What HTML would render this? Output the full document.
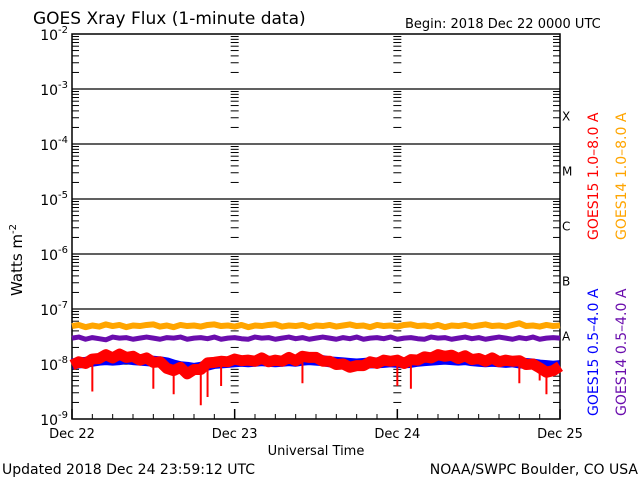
<!DOCTYPE html>
<html><head><meta charset="utf-8"><style>
body{margin:0;background:#fff;}
svg text{font-family:"DejaVu Sans","Liberation Sans",sans-serif;}
</style></head><body>
<svg id="c" width="640" height="480" xmlns="http://www.w3.org/2000/svg">
<text x="33" y="24" font-size="17">GOES Xray Flux (1-minute data)</text>
<text x="405" y="28" font-size="13">Begin:  2018 Dec 22 0000 UTC</text>
<text x="0" y="0" font-size="15" transform="translate(22,260) rotate(-90)" text-anchor="middle">Watts m<tspan dy="-6" font-size="10">-2</tspan></text>
<text x="316" y="455" font-size="13" text-anchor="middle">Universal Time</text>
<text x="2" y="474" font-size="14">Updated 2018 Dec 24 23:59:12 UTC</text>
<text x="638" y="474" font-size="14" text-anchor="end">NOAA/SWPC Boulder, CO USA</text>
<g id="axes"></g>
<g id="series"></g>
<text transform="translate(598,240) rotate(-90)" font-size="14" fill="#ff0000">GOES15 1.0–8.0 A</text>
<text transform="translate(626,240) rotate(-90)" font-size="14" fill="#ffa500">GOES14 1.0–8.0 A</text>
<text transform="translate(598,416) rotate(-90)" font-size="14" fill="#0000ff">GOES15 0.5–4.0 A</text>
<text transform="translate(626,416) rotate(-90)" font-size="14" fill="#6a0dad">GOES14 0.5–4.0 A</text>
</svg>
<script>
const yTickExps=[-9,-8,-7,-6,-5,-4,-3,-2];
const dayLabels=["Dec 22","Dec 23","Dec 24","Dec 25"];
const classLabels=["A","B","C","M","X"];
const orangeLog=[-7.31,-7.29,-7.33,-7.30,-7.32,-7.28,-7.31,-7.29,-7.33,-7.30,-7.31,-7.29,-7.28,-7.32,-7.30,-7.33,-7.29,-7.31,-7.30,-7.32,-7.29,-7.28,-7.31,-7.30,-7.32,-7.29,-7.33,-7.30,-7.31,-7.29,-7.28,-7.32,-7.30,-7.31,-7.29,-7.33,-7.30,-7.31,-7.29,-7.32,-7.30,-7.28,-7.31,-7.30,-7.33,-7.29,-7.31,-7.30,-7.32,-7.29,-7.28,-7.31,-7.30,-7.32,-7.29,-7.33,-7.30,-7.31,-7.29,-7.32,-7.30,-7.28,-7.31,-7.30,-7.32,-7.29,-7.26,-7.31,-7.30,-7.32,-7.29,-7.31,-7.30];
const purpleLog=[-7.53,-7.51,-7.55,-7.52,-7.54,-7.56,-7.51,-7.53,-7.52,-7.55,-7.53,-7.51,-7.53,-7.55,-7.52,-7.53,-7.51,-7.55,-7.53,-7.52,-7.54,-7.51,-7.55,-7.53,-7.52,-7.54,-7.55,-7.51,-7.53,-7.52,-7.55,-7.53,-7.51,-7.54,-7.52,-7.55,-7.53,-7.51,-7.53,-7.55,-7.52,-7.54,-7.51,-7.55,-7.53,-7.52,-7.54,-7.51,-7.55,-7.53,-7.52,-7.54,-7.55,-7.51,-7.53,-7.52,-7.55,-7.53,-7.51,-7.54,-7.52,-7.55,-7.53,-7.51,-7.53,-7.55,-7.52,-7.54,-7.51,-7.55,-7.53,-7.52,-7.53];
const blueLog=[-8.00,-7.98,-7.97,-7.95,-7.93,-7.92,-7.93,-7.92,-7.90,-7.92,-7.93,-7.94,-7.95,-7.96,-7.98,-8.02,-8.05,-8.06,-8.08,-8.06,-8.02,-7.99,-7.98,-7.97,-7.96,-7.95,-7.96,-7.95,-7.94,-7.95,-7.96,-7.95,-7.94,-7.95,-7.93,-7.92,-7.93,-7.94,-7.96,-7.97,-7.98,-7.99,-8.00,-7.99,-7.98,-7.98,-7.97,-7.96,-7.97,-7.98,-7.97,-7.95,-7.94,-7.93,-7.92,-7.91,-7.92,-7.93,-7.92,-7.94,-7.95,-7.96,-7.95,-7.96,-7.97,-7.96,-7.98,-7.99,-8.00,-8.02,-8.03,-8.04,-8.03];
const redLog=[-8.02,-7.96,-7.99,-7.91,-7.90,-7.83,-7.89,-7.82,-7.88,-7.86,-7.93,-7.89,-7.97,-7.96,-8.08,-8.12,-8.06,-8.18,-8.10,-8.10,-7.98,-7.97,-7.95,-7.96,-7.91,-7.94,-7.93,-7.95,-7.89,-7.96,-7.93,-7.95,-7.88,-7.94,-7.86,-7.88,-7.88,-7.95,-7.95,-8.01,-8.00,-8.06,-8.03,-8.03,-7.96,-7.99,-7.93,-7.95,-7.93,-7.99,-7.92,-7.93,-7.87,-7.89,-7.83,-7.86,-7.84,-7.90,-7.85,-7.92,-7.90,-7.95,-7.89,-7.96,-7.93,-7.95,-7.94,-8.01,-8.00,-8.07,-8.15,-8.12,-8.04];
const redDipHours=[3,12,15,19,20,22,34,48,50,66,69,70];
const redDipLog=[-8.5,-8.45,-8.55,-8.75,-8.6,-8.4,-8.35,-8.4,-8.45,-8.35,-8.3,-8.55];

const NS="http://www.w3.org/2000/svg";
const X0=72,X1=560,YB=419,DEC=55;
const xOf=h=>X0+(X1-X0)*h/72;
const yOf=l=>YB-(l+9)*DEC;
const ax=document.getElementById('axes'), se=document.getElementById('series');
function mk(tag,attrs,parent){const e=document.createElementNS(NS,tag);for(const k in attrs)e.setAttribute(k,attrs[k]);parent.appendChild(e);return e;}
let fr=mk('rect',{x:X0,y:yOf(-2),width:X1-X0,height:YB-yOf(-2),fill:'none',stroke:'#000','stroke-width':1.5},ax);


yTickExps.forEach(e=>{
  const y=yOf(e);
  if(e>-9&&e<-2){const l=mk('line',{x1:X0,x2:X1,y1:y,y2:y,stroke:'#000','stroke-width':1.2},ax);
    
    }
  const t=mk('text',{x:68,y:y+6,'font-size':14,'text-anchor':'end'},ax);
  
  
  t.innerHTML='10<tspan dy="-7" font-size="10">'+e+'</tspan>';
  if(e<-2){for(let m=2;m<=9;m++){const ym=y-Math.log10(m)*DEC;
    [[X0,X0+7],[X1-7,X1],[xOf(24)-4,xOf(24)+4],[xOf(48)-4,xOf(48)+4]].forEach(p=>mk('line',{x1:p[0],x2:p[1],y1:ym,y2:ym,stroke:'#000','stroke-width':1},ax));}}
});
dayLabels.forEach((d,i)=>{
  const x=xOf(i*24);
  mk('line',{x1:x,x2:x,y1:YB,y2:YB-10,stroke:'#000','stroke-width':1.5},ax);
  const t=mk('text',{x:x,y:438,'font-size':13,'text-anchor':'middle'},ax);
  
  
  t.textContent=d;
});
for(let h=3;h<72;h+=3){if(h%24)mk('line',{x1:xOf(h),x2:xOf(h),y1:YB,y2:YB-5,stroke:'#000'},ax);}
classLabels.forEach((c,i)=>{const t=mk('text',{x:562,y:yOf(-7.5+i)+4,'font-size':12,'font-family':'Liberation Serif, serif'},ax);
  
  
  t.textContent=c;});
function line(arr,col,w,name){const pts=arr.map((v,i)=>xOf(i)+','+yOf(v)).join(' ');
  const p=mk('polyline',{points:pts,fill:'none',stroke:col,'stroke-width':w,'stroke-linejoin':'round'},se);
  
  }
line(orangeLog,'#ffa500',6,'goes14-long-series');
line(purpleLog,'#6a0dad',5,'goes14-short-series');
line(blueLog,'#0000ff',11,'goes15-short-series');
line(redLog,'#ff0000',11,'goes15-long-series');
redDipHours.forEach((h,i)=>{const l=mk('line',{x1:xOf(h),x2:xOf(h),y1:yOf(redLog[h]),y2:yOf(redDipLog[i]),stroke:'#ff0000','stroke-width':2},se);
  
  });
</script>
</body></html>
